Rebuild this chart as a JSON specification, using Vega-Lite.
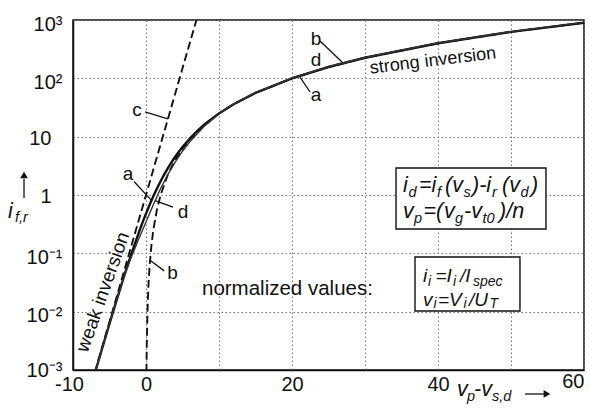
{
  "$schema": "https://vega.github.io/schema/vega-lite/v6.json",
  "width": 511,
  "height": 350,
  "autosize": {"type": "none"},
  "padding": {"left": 73, "top": 20, "right": 7, "bottom": 40},
  "background": "white",
  "config": {
    "view": {"stroke": "#111", "strokeWidth": 1.5},
    "font": "Liberation Sans",
    "text": {"font": "Liberation Sans", "color": "#111"}
  },
  "datasets": {
    "curves": [
      {"curve": "a", "x": -7, "y": 0.0008851},
      {"curve": "a", "x": -6, "y": 0.0023607},
      {"curve": "a", "x": -5, "y": 0.0062235},
      {"curve": "a", "x": -4, "y": 0.016111},
      {"curve": "a", "x": -3, "y": 0.040567},
      {"curve": "a", "x": -2, "y": 0.098133},
      {"curve": "a", "x": -1, "y": 0.224749},
      {"curve": "a", "x": -0.5, "y": 0.331706},
      {"curve": "a", "x": 0, "y": 0.480453},
      {"curve": "a", "x": 0.5, "y": 0.682174},
      {"curve": "a", "x": 1, "y": 0.948826},
      {"curve": "a", "x": 1.5, "y": 1.292473},
      {"curve": "a", "x": 2, "y": 1.724657},
      {"curve": "a", "x": 2.5, "y": 2.255791},
      {"curve": "a", "x": 3, "y": 2.894806},
      {"curve": "a", "x": 3.5, "y": 3.648956},
      {"curve": "a", "x": 4, "y": 4.523823},
      {"curve": "a", "x": 4.5, "y": 5.523774},
      {"curve": "a", "x": 5, "y": 6.650669},
      {"curve": "a", "x": 6, "y": 9.293883},
      {"curve": "a", "x": 7, "y": 12.45915},
      {"curve": "a", "x": 8, "y": 16.14553},
      {"curve": "a", "x": 10, "y": 25.0672},
      {"curve": "a", "x": 12, "y": 36.0297},
      {"curve": "a", "x": 15, "y": 56.2583},
      {"curve": "a", "x": 20, "y": 100.0009},
      {"curve": "a", "x": 25, "y": 156.25},
      {"curve": "a", "x": 30, "y": 225},
      {"curve": "a", "x": 40, "y": 400},
      {"curve": "a", "x": 50, "y": 625},
      {"curve": "a", "x": 60, "y": 900},
      {"curve": "d", "x": -7, "y": 0.0008851},
      {"curve": "d", "x": -6, "y": 0.0023607},
      {"curve": "d", "x": -5, "y": 0.0062235},
      {"curve": "d", "x": -4, "y": 0.016111},
      {"curve": "d", "x": -3, "y": 0.040567},
      {"curve": "d", "x": -2, "y": 0.086223},
      {"curve": "d", "x": -1, "y": 0.176449},
      {"curve": "d", "x": 0, "y": 0.344534},
      {"curve": "d", "x": 1, "y": 0.682174},
      {"curve": "d", "x": 2, "y": 1.292473},
      {"curve": "d", "x": 3, "y": 2.255791},
      {"curve": "d", "x": 4, "y": 3.648956},
      {"curve": "d", "x": 5, "y": 5.6303},
      {"curve": "d", "x": 6, "y": 8.17407},
      {"curve": "d", "x": 8, "y": 15.17349},
      {"curve": "d", "x": 10, "y": 24.5724},
      {"curve": "d", "x": 12, "y": 36.3},
      {"curve": "d", "x": 15, "y": 56.8},
      {"curve": "d", "x": 20, "y": 101.2},
      {"curve": "d", "x": 25, "y": 158},
      {"curve": "d", "x": 30, "y": 227.5},
      {"curve": "d", "x": 40, "y": 404},
      {"curve": "d", "x": 50, "y": 631},
      {"curve": "d", "x": 60, "y": 909},
      {"curve": "b", "x": 0.03, "y": 0.000225},
      {"curve": "b", "x": 0.0632, "y": 0.00099856},
      {"curve": "b", "x": 0.1, "y": 0.0025},
      {"curve": "b", "x": 0.2, "y": 0.01},
      {"curve": "b", "x": 0.35, "y": 0.030625},
      {"curve": "b", "x": 0.5, "y": 0.0625},
      {"curve": "b", "x": 0.75, "y": 0.140625},
      {"curve": "b", "x": 1, "y": 0.25},
      {"curve": "b", "x": 1.5, "y": 0.5625},
      {"curve": "b", "x": 2, "y": 1},
      {"curve": "b", "x": 3, "y": 2.25},
      {"curve": "b", "x": 4, "y": 4},
      {"curve": "b", "x": 5, "y": 6.25},
      {"curve": "b", "x": 6, "y": 9},
      {"curve": "b", "x": 8, "y": 16},
      {"curve": "b", "x": 10, "y": 25},
      {"curve": "b", "x": 12, "y": 36},
      {"curve": "b", "x": 15, "y": 56.25},
      {"curve": "b", "x": 20, "y": 100},
      {"curve": "b", "x": 25, "y": 156.25},
      {"curve": "b", "x": 30, "y": 225},
      {"curve": "b", "x": 40, "y": 400},
      {"curve": "b", "x": 50, "y": 625},
      {"curve": "b", "x": 60, "y": 900},
      {"curve": "c", "x": -7, "y": 0.00091188},
      {"curve": "c", "x": -5, "y": 0.0067379},
      {"curve": "c", "x": -3, "y": 0.049787},
      {"curve": "c", "x": -1, "y": 0.367879},
      {"curve": "c", "x": 1, "y": 2.718282},
      {"curve": "c", "x": 3, "y": 20.0855},
      {"curve": "c", "x": 5, "y": 148.4132},
      {"curve": "c", "x": 7, "y": 1096.633}
    ],
    "boxes": [
      {"x": 34.25, "x2": 54.79, "y": 2.903, "y2": 0.2612},
      {"x": 36.85, "x2": 51.23, "y": 0.0865, "y2": 0.010266}
    ],
    "strokes": [
      {"x": -0.14, "y": 26.5, "x2": 3.0, "y2": 20.1},
      {"x": -1.64, "y": 1.7, "x2": 0.75, "y2": 0.81},
      {"x": 1.23, "y": 0.8, "x2": 3.7, "y2": 0.622},
      {"x": 0.55, "y": 0.076, "x2": 2.5, "y2": 0.05},
      {"x": 23.84, "y": 436.5, "x2": 26.85, "y2": 190},
      {"x": 21.1, "y": 105, "x2": 22.47, "y2": 58.3},
      {"x": -16.71, "y": 0.8884, "x2": -16.71, "y2": 1.9},
      {"x": 51.92, "y": 0.0003878, "x2": 54.5, "y2": 0.0003878}
    ],
    "heads": [
      {"dir": "up", "x": -16.71, "y": 2.203},
      {"dir": "right", "x": 54.93, "y": 0.0003878}
    ],
    "labels": [
      {"t": "c", "x": -1.23, "y": 28.6},
      {"t": "a", "x": -2.47, "y": 2.29},
      {"t": "d", "x": 5.07, "y": 0.512},
      {"t": "b", "x": 3.63, "y": 0.0469},
      {"t": "b", "x": 23.29, "y": 472},
      {"t": "d", "x": 23.29, "y": 206},
      {"t": "a", "x": 23.29, "y": 51.8}
    ],
    "notes": [
      {"t": "strong inversion", "x": 39.32, "y": 198},
      {"t": "weak inversion", "x": -5.9, "y": 0.0217},
      {"t": "normalized values:", "x": 7.67, "y": 0.0193}
    ],
    "formula": [
      {"k": "main", "t": "i", "x": 35.205, "y": 1.1257},
      {"k": "main", "t": "=i", "x": 37.397, "y": 1.1257},
      {"k": "main", "t": "(v", "x": 40.959, "y": 1.1257},
      {"k": "main", "t": ")-i", "x": 44.658, "y": 1.1257},
      {"k": "main", "t": "(v", "x": 48.767, "y": 1.1257},
      {"k": "main", "t": ")", "x": 52.74, "y": 1.1257},
      {"k": "sub", "t": "d", "x": 35.959, "y": 0.9241},
      {"k": "sub", "t": "f", "x": 39.863, "y": 0.9241},
      {"k": "sub", "t": "s", "x": 43.493, "y": 0.9241},
      {"k": "sub", "t": "r", "x": 47.397, "y": 0.9241},
      {"k": "sub", "t": "d", "x": 51.301, "y": 0.9241},
      {"k": "main", "t": "v", "x": 35.205, "y": 0.4034},
      {"k": "main", "t": "=(", "x": 38.014, "y": 0.4034},
      {"k": "main", "t": "v", "x": 40.822, "y": 0.4034},
      {"k": "main", "t": "-v", "x": 43.562, "y": 0.4034},
      {"k": "main", "t": ")/n", "x": 48.356, "y": 0.4034},
      {"k": "sub", "t": "p", "x": 36.712, "y": 0.3311},
      {"k": "sub", "t": "g", "x": 42.329, "y": 0.3311},
      {"k": "sub", "t": "t0", "x": 46.096, "y": 0.3311},
      {"k": "main2", "t": "i", "x": 37.945, "y": 0.03226},
      {"k": "main2", "t": "=I", "x": 39.658, "y": 0.03226},
      {"k": "main2", "t": "/I", "x": 43.014, "y": 0.03226},
      {"k": "sub2", "t": "i", "x": 38.63, "y": 0.02809},
      {"k": "sub2", "t": "i", "x": 42.055, "y": 0.02809},
      {"k": "sub2", "t": "spec", "x": 44.795, "y": 0.02809},
      {"k": "main2", "t": "v", "x": 37.945, "y": 0.012513},
      {"k": "main2", "t": "=V", "x": 40.0, "y": 0.012513},
      {"k": "main2", "t": "/U", "x": 44.247, "y": 0.012513},
      {"k": "sub2", "t": "i", "x": 39.384, "y": 0.011332},
      {"k": "sub2", "t": "i", "x": 43.493, "y": 0.011332},
      {"k": "sub2", "t": "T", "x": 47.055, "y": 0.011332},
      {"k": "main", "t": "i", "x": -18.9, "y": 0.4036},
      {"k": "sub", "t": "f,r", "x": -17.95, "y": 0.344},
      {"k": "main", "t": "v", "x": 42.6, "y": 0.0003583},
      {"k": "sub", "t": "p", "x": 43.97, "y": 0.0002941},
      {"k": "main", "t": "-v", "x": 44.93, "y": 0.0003583},
      {"k": "sub", "t": "s,d", "x": 47.4, "y": 0.0002941}
    ]
  },
  "encoding": {
    "x": {
      "field": "x",
      "type": "quantitative",
      "scale": {"domain": [-10, 60], "nice": false, "zero": false},
      "axis": {
        "title": null,
        "values": [-10, 0, 10, 20, 30, 40, 50, 60],
        "labelExpr": "datum.value == -10 ? '-10' : (datum.value == 10 || datum.value == 30 || datum.value == 50) ? '' : datum.label",
        "labelFlush": false,
        "labelOverlap": false,
        "labelFont": "Liberation Sans",
        "labelFontSize": 20,
        "labelColor": "#111",
        "labelBaseline": "top",
        "labelAlign": {"condition": {"test": "datum.value == 60", "value": "right"}, "value": "center"},
        "labelPadding": {"condition": {"test": "datum.value == 60", "value": 1}, "value": 4},
        "labelOffset": {"condition": {"test": "datum.value == -10", "value": -4}, "value": 0},
        "ticks": false,
        "domainColor": "#111",
        "domainWidth": 1.5,
        "grid": true,
        "gridColor": "#777",
        "gridDash": [1.5, 2.5],
        "gridWidth": 1
      }
    },
    "y": {
      "field": "y",
      "type": "quantitative",
      "scale": {"type": "log", "domain": [0.001, 1000], "nice": false},
      "axis": {
        "title": null,
        "values": [0.001, 0.01, 0.1, 1, 10, 100, 1000],
        "labelExpr": "datum.value > 500 ? '10³' : datum.value > 50 ? '10²' : datum.value > 5 ? '10' : datum.value > 0.5 ? '1' : datum.value > 0.05 ? '10⁻¹' : datum.value > 0.005 ? '10⁻²' : '10⁻³'",
        "labelOverlap": false,
        "labelFont": "Liberation Sans",
        "labelFontSize": 20,
        "labelColor": "#111",
        "labelAlign": "right",
        "labelBaseline": "middle",
        "labelPadding": {"condition": {"test": "datum.value == 10 || datum.value == 1", "value": 22}, "value": 11},
        "labelOffset": {"condition": [{"test": "datum.value == 10 || datum.value == 1", "value": 1.5}, {"test": "datum.value < 0.005", "value": 0}], "value": 4},
        "ticks": false,
        "domainColor": "#111",
        "domainWidth": 1.5,
        "grid": true,
        "gridColor": "#777",
        "gridDash": [1.5, 2.5],
        "gridWidth": 1
      }
    }
  },
  "layer": [
    {
      "data": {"name": "curves"},
      "transform": [{"filter": "datum.curve == 'b'"}],
      "mark": {"type": "line", "clip": true, "color": "#111", "strokeWidth": 1.9, "strokeDash": [8, 4]}
    },
    {
      "data": {"name": "curves"},
      "transform": [{"filter": "datum.curve == 'c'"}],
      "mark": {"type": "line", "clip": true, "color": "#111", "strokeWidth": 1.9, "strokeDash": [8, 4]}
    },
    {
      "data": {"name": "curves"},
      "transform": [{"filter": "datum.curve == 'a'"}],
      "mark": {"type": "line", "clip": true, "color": "#111", "strokeWidth": 2.4}
    },
    {
      "data": {"name": "curves"},
      "transform": [{"filter": "datum.curve == 'd'"}],
      "mark": {"type": "line", "clip": true, "color": "#333", "strokeWidth": 1.4}
    },
    {
      "data": {"name": "boxes"},
      "mark": {"type": "rect", "fill": "white", "stroke": "#111", "strokeWidth": 1.4},
      "encoding": {"x2": {"field": "x2"}, "y2": {"field": "y2"}}
    },
    {
      "data": {"name": "strokes"},
      "mark": {"type": "rule", "color": "#111", "strokeWidth": 1.3},
      "encoding": {"x2": {"field": "x2"}, "y2": {"field": "y2"}}
    },
    {
      "data": {"name": "heads"},
      "transform": [{"filter": "datum.dir == 'up'"}],
      "mark": {"type": "point", "shape": "triangle-up", "filled": true, "color": "#111", "size": 60, "opacity": 1}
    },
    {
      "data": {"name": "heads"},
      "transform": [{"filter": "datum.dir == 'right'"}],
      "mark": {"type": "point", "shape": "triangle-right", "filled": true, "color": "#111", "size": 60, "opacity": 1}
    },
    {
      "data": {"name": "labels"},
      "mark": {"type": "text", "fontSize": 19, "align": "center", "baseline": "middle"},
      "encoding": {"text": {"field": "t"}}
    },
    {
      "data": {"name": "notes"},
      "transform": [{"filter": "datum.t == 'strong inversion'"}],
      "mark": {"type": "text", "fontSize": 18, "angle": -7, "align": "center", "baseline": "middle"},
      "encoding": {"text": {"field": "t"}}
    },
    {
      "data": {"name": "notes"},
      "transform": [{"filter": "datum.t == 'weak inversion'"}],
      "mark": {"type": "text", "fontSize": 19, "angle": -70.5, "align": "center", "baseline": "middle"},
      "encoding": {"text": {"field": "t"}}
    },
    {
      "data": {"name": "notes"},
      "transform": [{"filter": "datum.t == 'normalized values:'"}],
      "mark": {"type": "text", "fontSize": 20.5, "align": "left", "baseline": "alphabetic"},
      "encoding": {"text": {"field": "t"}}
    },
    {
      "data": {"name": "formula"},
      "transform": [{"filter": "datum.k == 'main'"}],
      "mark": {"type": "text", "fontSize": 21.5, "fontStyle": "italic", "align": "left", "baseline": "alphabetic"},
      "encoding": {"text": {"field": "t"}}
    },
    {
      "data": {"name": "formula"},
      "transform": [{"filter": "datum.k == 'sub'"}],
      "mark": {"type": "text", "fontSize": 14.5, "fontStyle": "italic", "align": "left", "baseline": "alphabetic"},
      "encoding": {"text": {"field": "t"}}
    },
    {
      "data": {"name": "formula"},
      "transform": [{"filter": "datum.k == 'main2'"}],
      "mark": {"type": "text", "fontSize": 19, "fontStyle": "italic", "align": "left", "baseline": "alphabetic"},
      "encoding": {"text": {"field": "t"}}
    },
    {
      "data": {"name": "formula"},
      "transform": [{"filter": "datum.k == 'sub2'"}],
      "mark": {"type": "text", "fontSize": 14, "fontStyle": "italic", "align": "left", "baseline": "alphabetic"},
      "encoding": {"text": {"field": "t"}}
    }
  ]
}
